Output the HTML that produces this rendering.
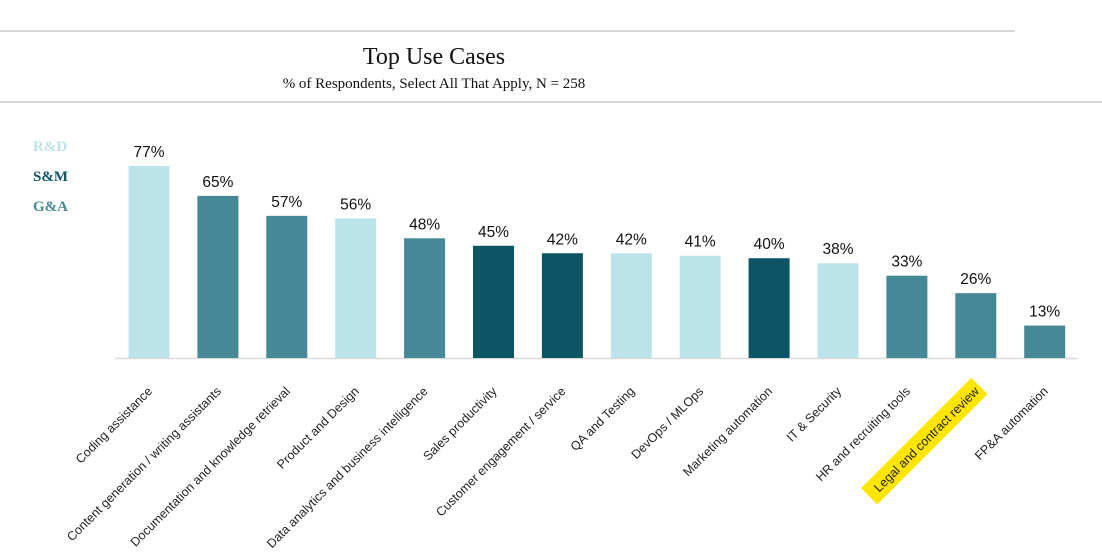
<!DOCTYPE html>
<html><head><meta charset="utf-8">
<style>
html,body{margin:0;padding:0;background:#fff;width:1102px;height:556px;overflow:hidden}
svg{display:block}
</style></head>
<body>
<svg id="chart" width="1102" height="556" xmlns="http://www.w3.org/2000/svg">
  <line x1="0" y1="31" x2="1015" y2="31" stroke="#d8d8d8" stroke-width="2"/>
  <line x1="0" y1="102" x2="1102" y2="102" stroke="#d8d8d8" stroke-width="2"/>
  <text x="434" y="64" text-anchor="middle" font-family="Liberation Serif, serif" font-size="24" fill="#111">Top Use Cases</text>
  <text x="434" y="88" text-anchor="middle" font-family="Liberation Serif, serif" font-size="15" fill="#111">% of Respondents, Select All That Apply, N = 258</text>
  <g font-family="Liberation Serif, serif" font-size="15" font-weight="bold">
    <text x="33" y="151" fill="#bde3ea">R&amp;D</text>
    <text x="33" y="181" fill="#0d5564">S&amp;M</text>
    <text x="33" y="211" fill="#468896">G&amp;A</text>
  </g>
  <line x1="115" y1="358.5" x2="1078" y2="358.5" stroke="#d9d9d9" stroke-width="1.5"/>
  <g id="bars"></g>
</svg>
<script>
const categories = ["Coding assistance","Content generation / writing assistants","Documentation and knowledge retrieval","Product and Design","Data analytics and business intelligence","Sales productivity","Customer engagement / service","QA and Testing","DevOps / MLOps","Marketing automation","IT & Security","HR and recruiting tools","Legal and contract review","FP&A automation"];
const values = [77,65,57,56,48,45,42,42,41,40,38,33,26,13];
const groups = ["R&D","G&A","G&A","R&D","G&A","S&M","S&M","R&D","R&D","S&M","R&D","G&A","G&A","G&A"];
const highlighted = ["Legal and contract review"];

const colors = {"R&D":"#bde3ea","S&M":"#0d5564","G&A":"#468896"};
const baseY = 358, pxPer = 2.494, x0 = 149, step = 68.9, bw = 41;
const yScale = v => baseY - v * pxPer;
const xScale = i => x0 + i * step;
const NS = "http://www.w3.org/2000/svg";
const g = document.getElementById('bars');
categories.forEach((c, i) => {
  const cx = xScale(i), v = values[i];
  const r = document.createElementNS(NS, 'rect');
  
  
  r.setAttribute('x', cx - bw / 2); r.setAttribute('y', yScale(v));
  r.setAttribute('width', bw); r.setAttribute('height', baseY - yScale(v));
  r.setAttribute('fill', colors[groups[i]]);
  g.appendChild(r);
  const t = document.createElementNS(NS, 'text');
  
  
  t.setAttribute('x', cx); t.setAttribute('y', yScale(v) - 9);
  t.setAttribute('text-anchor', 'middle');
  t.setAttribute('font-family', 'Liberation Sans, sans-serif');
  t.setAttribute('font-size', '15.5'); t.setAttribute('fill', '#111');
  t.textContent = v + '%';
  g.appendChild(t);
  const ax = cx + 4, ay = 392;
  if (highlighted.includes(c)) {
    const hl = document.createElementNS(NS, 'rect');
    
    
    hl.setAttribute('x', ax - 152); hl.setAttribute('y', ay - 16);
    hl.setAttribute('width', 156); hl.setAttribute('height', 23);
    hl.setAttribute('fill', '#ffe600');
    hl.setAttribute('transform', `rotate(-45 ${ax} ${ay})`);
    g.appendChild(hl);
  }
  const l = document.createElementNS(NS, 'text');
  
  
  l.setAttribute('x', ax); l.setAttribute('y', ay);
  l.setAttribute('text-anchor', 'end');
  l.setAttribute('font-family', 'Liberation Sans, sans-serif');
  l.setAttribute('font-size', '12.5'); l.setAttribute('fill', '#222');
  l.setAttribute('transform', `rotate(-45 ${ax} ${ay})`);
  l.textContent = c;
  g.appendChild(l);
});
</script>
</body></html>
